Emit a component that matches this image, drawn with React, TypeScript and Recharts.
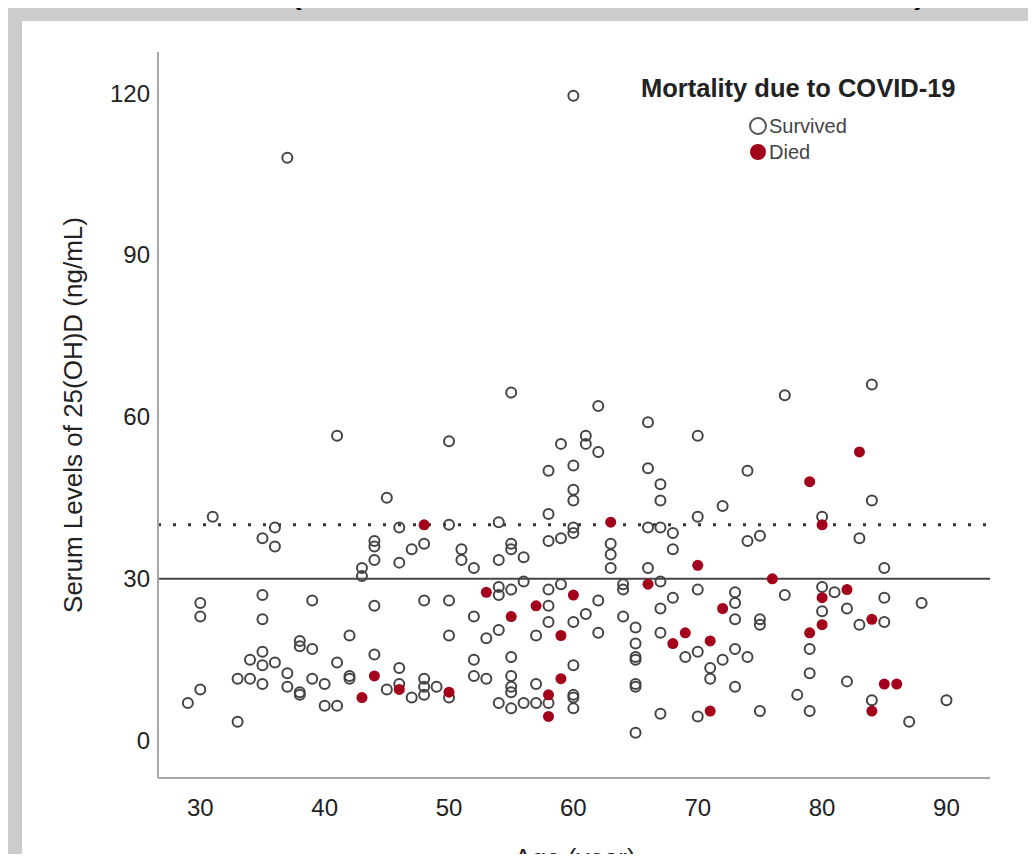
import React from 'react';
import { ScatterChart, Scatter, XAxis, YAxis, ReferenceLine } from 'recharts';

// [age, serum 25(OH)D] pairs
const survived: number[][] = [
  [29, 7], [30, 9.5], [30, 25.5], [30, 23], [31, 41.5], [33, 3.5], [33, 11.5], [34, 11.5], [34, 15],
  [35, 16.5], [35, 14], [35, 10.5], [35, 22.5], [35, 27], [35, 37.5], [36, 39.5], [36, 36], [36, 14.5],
  [37, 12.5], [37, 10], [37, 108], [38, 18.5], [38, 17.5], [38, 8.5], [38, 9], [39, 17], [39, 26], [39, 11.5],
  [40, 10.5], [40, 6.5], [41, 6.5], [41, 14.5], [41, 56.5], [42, 12], [42, 11.5], [42, 19.5], [43, 32],
  [43, 30.5], [44, 37], [44, 36], [44, 33.5], [44, 25], [44, 16], [45, 45], [45, 9.5], [46, 33], [46, 39.5],
  [46, 13.5], [46, 10.5], [47, 35.5], [47, 8], [48, 36.5], [48, 26], [48, 11.5], [48, 10], [48, 8.5],
  [49, 10], [50, 55.5], [50, 40], [50, 26], [50, 19.5], [50, 8],
  [51, 35.5], [51, 33.5], [52, 32], [52, 23], [52, 15], [52, 12], [53, 19], [53, 11.5], [54, 40.5],
  [54, 33.5], [54, 28.5], [54, 27], [54, 20.5], [54, 7], [55, 64.5], [55, 36.5], [55, 35.5], [55, 28],
  [55, 15.5], [55, 12], [55, 10], [55, 9], [55, 6], [56, 34], [56, 29.5], [56, 7], [57, 19.5], [57, 10.5],
  [57, 7], [58, 50], [58, 42], [58, 37], [58, 28], [58, 25], [58, 22], [58, 7], [59, 55], [59, 37.5],
  [59, 29], [60, 119.5], [60, 51], [60, 46.5], [60, 44.5], [60, 39.5], [60, 38.5], [60, 22], [60, 14],
  [60, 8.5], [60, 8], [60, 6], [61, 56.5], [61, 55], [61, 23.5], [62, 62], [62, 53.5], [62, 26], [62, 20],
  [63, 36.5], [63, 34.5], [63, 32], [64, 29], [64, 28], [64, 23], [65, 21], [65, 18], [65, 15.5], [65, 15],
  [65, 10.5], [65, 10], [65, 1.5], [66, 59], [66, 50.5], [66, 39.5], [66, 32], [67, 47.5], [67, 44.5],
  [67, 39.5], [67, 29.5], [67, 24.5], [67, 20], [67, 5], [68, 38.5], [68, 35.5], [68, 26.5], [69, 15.5],
  [70, 56.5], [70, 41.5], [70, 28], [70, 16.5], [70, 4.5], [71, 13.5], [71, 11.5], [72, 43.5], [72, 15],
  [73, 27.5], [73, 25.5], [73, 22.5], [73, 17], [73, 10], [74, 50], [74, 37], [74, 15.5], [75, 38],
  [75, 22.5], [75, 21.5], [75, 5.5], [77, 64], [77, 27], [78, 8.5], [79, 17], [79, 12.5], [79, 5.5],
  [80, 41.5], [80, 28.5], [80, 24], [81, 27.5], [82, 24.5], [82, 11], [83, 37.5], [83, 21.5], [84, 66],
  [84, 44.5], [84, 7.5], [85, 32], [85, 26.5], [85, 22], [87, 3.5], [88, 25.5], [90, 7.5],
];

const died: number[][] = [
  [43, 8], [44, 12], [46, 9.5], [48, 40], [50, 9], [53, 27.5], [55, 23], [57, 25], [58, 8.5], [58, 4.5],
  [59, 19.5], [59, 11.5], [60, 27], [63, 40.5], [66, 29], [68, 18], [69, 20], [70, 32.5], [71, 18.5],
  [71, 5.5], [72, 24.5], [76, 30], [79, 48], [79, 20], [80, 40], [80, 26.5], [80, 21.5], [82, 28],
  [83, 53.5], [84, 22.5], [84, 5.5], [85, 10.5], [86, 10.5],
];

const xTicks = [30, 40, 50, 60, 70, 80, 90];
const yTicks = [0, 30, 60, 90, 120];
const cutoffs = { deficient: 30, optimal: 40 };

const FONT = '"Liberation Sans", Arial, sans-serif';
const RED = '#a3001b';
const INK = '#222';

const toPoints = (rows: number[][]) => rows.map(([age, level]) => ({ age, level }));

const OpenDot = (p: any) => (
  <circle cx={p.cx} cy={p.cy} r={5} fill="none" stroke="#444" strokeWidth={2} />
);
const RedDot = (p: any) => <circle cx={p.cx} cy={p.cy} r={5.5} fill={RED} />;

export default function App() {
  const tick = { fontSize: 24, fill: INK, fontFamily: FONT };
  return (
    <div style={{ position: 'relative', width: 1036, height: 862, margin: -8, background: '#cccccc', overflow: 'hidden' }}>
      <div style={{ position: 'absolute', left: 22, top: 21, width: 1010, height: 850, background: '#fff' }} />
      <div style={{ position: 'absolute', left: 0, top: 0 }}>
        <ScatterChart width={1036} height={862} margin={{ top: 52, right: 46, left: 98, bottom: 44 }}>
          <XAxis
            type="number"
            dataKey="age"
            domain={[26.6, 93.5]}
            ticks={xTicks}
            allowDataOverflow
            axisLine={{ stroke: '#a8a8a8', strokeWidth: 2 }}
            tickLine={false}
            tickSize={0}
            tickMargin={21}
            height={40}
            tick={tick}
          />
          <YAxis
            type="number"
            dataKey="level"
            domain={[-6.9, 127.6]}
            ticks={yTicks}
            allowDataOverflow
            axisLine={{ stroke: '#a8a8a8', strokeWidth: 2 }}
            tickLine={false}
            tickSize={0}
            tickMargin={8}
            width={60}
            tick={tick}
          />
          <ReferenceLine y={cutoffs.optimal} stroke="#333" strokeWidth={3} strokeDasharray="3 12" />
          <ReferenceLine y={cutoffs.deficient} stroke="#444" strokeWidth={2} />
          <Scatter name="Survived" data={toPoints(survived)} shape={OpenDot} isAnimationActive={false} />
          <Scatter name="Died" data={toPoints(died)} shape={RedDot} isAnimationActive={false} />
        </ScatterChart>
      </div>
      <svg width={1036} height={862} style={{ position: 'absolute', left: 0, top: 0, pointerEvents: 'none' }} fontFamily={FONT}>
        {/* bottom edge of the figure caption above, cut off by the crop */}
        <text x={286} y={0} fontSize={48} fill="#000">(</text>
        <text x={582} y={0} fontSize={48} fill="#000">,</text>
        <text x={914} y={0} fontSize={48} fill="#000">)</text>

        <text x={0} y={0} fontSize={26} fill={INK} textAnchor="middle" dominantBaseline="central"
          transform="translate(73 415) rotate(-90)">
          Serum Levels of 25(OH)D (ng/mL)
        </text>
        <text x={575} y={867} fontSize={26} fill={INK} textAnchor="middle">Age (year)</text>

        <text x={641} y={97} fontSize={25.5} fontWeight="bold" fill={INK}>Mortality due to COVID-19</text>
        <circle cx={758} cy={126} r={8} fill="none" stroke="#555" strokeWidth={2} />
        <circle cx={758} cy={152} r={8} fill={RED} />
        <text x={769} y={133} fontSize={20} fill="#444">Survived</text>
        <text x={769} y={159} fontSize={20} fill="#444">Died</text>
      </svg>
    </div>
  );
}
